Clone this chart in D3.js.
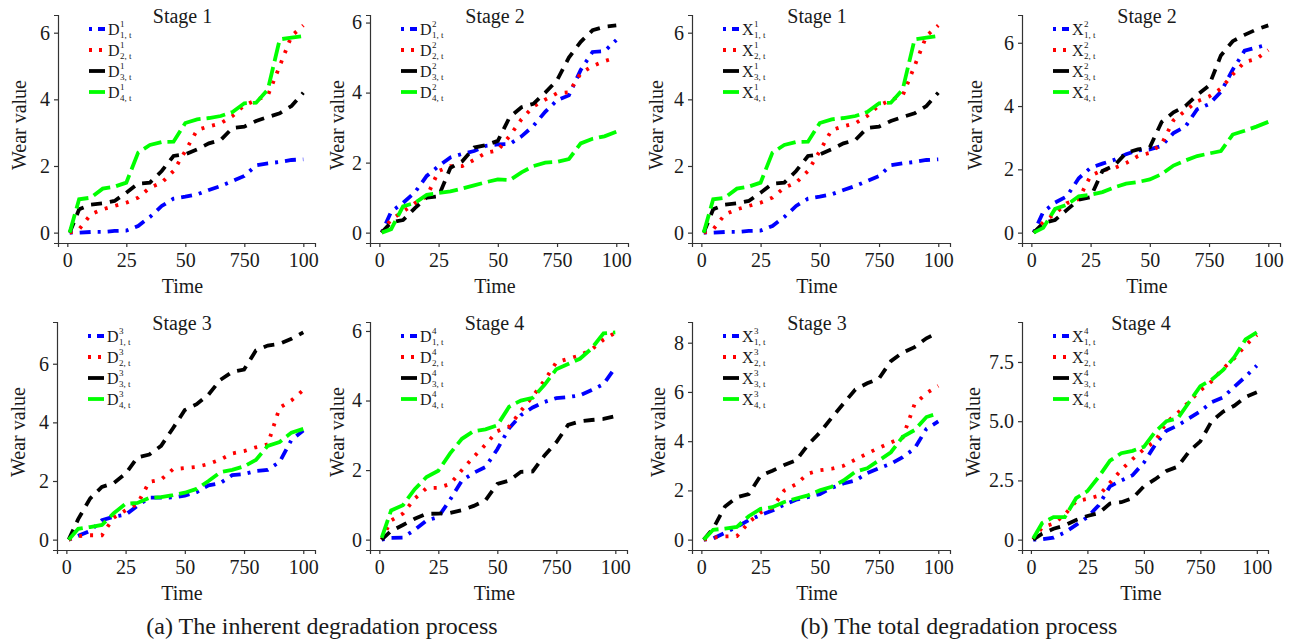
<!DOCTYPE html>
<html>
<head>
<meta charset="utf-8">
<script src="https://cdn.jsdelivr.net/npm/d3@7"></script>
<style>
  body { margin: 0; background: #fff; }
  svg { display: block; }
  svg text { font-family: 'Liberation Serif', 'Times New Roman', Times, 'DejaVu Serif', serif !important; fill: #1a1a1a; }
</style>
</head>
<body>
<svg id="chart" width="1294" height="641" font-family="Liberation Serif"></svg>
<script>
// time grid every 5 units
const times = [1, 5, 10, 15, 20, 25, 30, 35, 40, 45, 50, 55, 60, 65, 70, 75, 80, 85, 90, 95, 100]
const xTicks = [0, 25, 50, 75, 100]
const xTickLabels = ['0', '25', '50', '750', '100']

// inherent degradation, stage 1..4 (blue, red, black, green)
const inh1 = [
    [0, 0, 0.02, 0.02, 0.05, 0.06, 0.2, 0.47, 0.8, 1.02, 1.08, 1.15, 1.28, 1.4, 1.55, 1.7, 2.02, 2.08, 2.12, 2.18, 2.2],
    [0, 0.1, 0.55, 0.7, 0.8, 0.9, 1.05, 1.35, 1.5, 1.85, 2.45, 3.08, 3.19, 3.28, 3.5, 3.82, 3.98, 4.12, 5.0, 5.9, 6.22],
    [0, 0.7, 0.84, 0.88, 0.95, 1.2, 1.47, 1.5, 1.85, 2.3, 2.35, 2.5, 2.68, 2.78, 3.14, 3.18, 3.35, 3.47, 3.58, 3.8, 4.2],
    [0, 1.0, 1.05, 1.32, 1.38, 1.5, 2.4, 2.63, 2.72, 2.73, 3.29, 3.4, 3.44, 3.5, 3.62, 3.88, 3.9, 4.3, 5.8, 5.85, 5.9]
]
const inh2 = [
    [0, 0.6, 0.85, 1.15, 1.62, 1.9, 2.15, 2.25, 2.33, 2.48, 2.52, 2.53, 2.75, 3.05, 3.45, 3.78, 3.92, 4.65, 5.16, 5.18, 5.5],
    [0, 0.38, 0.6, 0.84, 1.03, 1.76, 1.9, 1.9, 2.08, 2.28, 2.35, 2.76, 3.24, 3.6, 3.8, 3.98, 4.01, 4.55, 4.76, 4.9, 5.0],
    [0, 0.3, 0.36, 0.7, 1.0, 1.04, 1.85, 2.04, 2.43, 2.5, 2.62, 3.3, 3.58, 3.68, 4.0, 4.35, 5.0, 5.45, 5.78, 5.88, 5.92],
    [0, 0.1, 0.75, 0.85, 1.08, 1.13, 1.18, 1.26, 1.35, 1.44, 1.52, 1.5, 1.72, 1.9, 2.0, 2.02, 2.1, 2.55, 2.68, 2.75, 2.88]
]
const inh3 = [
    [0, 0.13, 0.3, 0.66, 0.78, 0.85, 1.15, 1.43, 1.43, 1.44, 1.5, 1.62, 1.85, 1.93, 2.2, 2.24, 2.34, 2.38, 2.65, 3.4, 3.72],
    [0, 0.12, 0.15, 0.15, 0.75, 1.0, 1.22, 1.97, 2.05, 2.4, 2.44, 2.48, 2.58, 2.73, 2.94, 3.02, 3.15, 3.25, 4.5, 4.75, 5.1],
    [0, 0.7, 1.4, 1.8, 1.93, 2.25, 2.8, 2.9, 3.2, 3.8, 4.42, 4.62, 4.95, 5.45, 5.72, 5.8, 6.45, 6.62, 6.68, 6.85, 7.07],
    [0, 0.37, 0.43, 0.5, 0.9, 1.22, 1.25, 1.42, 1.45, 1.52, 1.6, 1.73, 2.0, 2.3, 2.38, 2.5, 2.72, 3.2, 3.33, 3.65, 3.78]
]
const inh4 = [
    [0, 0.05, 0.06, 0.28, 0.55, 0.65, 1.15, 1.7, 1.92, 2.09, 2.6, 3.2, 3.58, 3.8, 3.96, 4.07, 4.1, 4.15, 4.3, 4.47, 4.95],
    [0, 0.55, 0.75, 1.18, 1.48, 1.49, 1.6, 2.0, 2.38, 2.73, 3.12, 3.25, 3.7, 4.12, 4.58, 5.1, 5.2, 5.3, 5.47, 5.75, 5.95],
    [0, 0.25, 0.42, 0.6, 0.74, 0.75, 0.77, 0.85, 0.97, 1.13, 1.6, 1.7, 1.95, 1.96, 2.42, 2.8, 3.3, 3.4, 3.44, 3.47, 3.55],
    [0.05, 0.84, 0.99, 1.45, 1.8, 1.98, 2.48, 2.9, 3.12, 3.17, 3.29, 3.82, 4.0, 4.08, 4.45, 4.9, 5.05, 5.2, 5.5, 5.93, 5.96]
]

// total degradation, stage 1..4 (stage 1 is the same as the inherent one)
const tot1 = inh1
const tot2 = [
    [0, 0.65, 0.95, 1.15, 1.72, 2.05, 2.18, 2.3, 2.48, 2.6, 2.63, 2.74, 3.15, 3.35, 3.9, 4.06, 4.45, 5.15, 5.75, 5.85, 5.95],
    [0, 0.33, 0.6, 0.93, 1.06, 1.8, 1.97, 2.04, 2.2, 2.42, 2.52, 2.8, 3.55, 3.85, 4.15, 4.3, 4.55, 5.0, 5.39, 5.49, 5.77],
    [0, 0.3, 0.4, 0.72, 1.04, 1.12, 1.95, 2.12, 2.52, 2.63, 2.7, 3.5, 3.8, 4.0, 4.35, 4.65, 5.6, 6.05, 6.25, 6.42, 6.55],
    [0, 0.15, 0.75, 0.88, 1.15, 1.2, 1.28, 1.43, 1.55, 1.6, 1.68, 1.85, 2.12, 2.28, 2.42, 2.5, 2.58, 3.1, 3.22, 3.35, 3.5]
]
const tot3 = [
    [0, 0.05, 0.28, 0.52, 0.79, 1.0, 1.18, 1.42, 1.62, 1.73, 1.85, 2.1, 2.28, 2.4, 2.7, 2.9, 3.08, 3.35, 3.7, 4.5, 4.8],
    [0, 0.08, 0.13, 0.14, 0.7, 1.1, 1.3, 2.0, 2.25, 2.68, 2.82, 2.88, 3.0, 3.25, 3.5, 3.73, 3.95, 4.15, 5.5, 5.95, 6.25],
    [0, 0.45, 1.35, 1.72, 1.85, 2.6, 2.8, 3.03, 3.22, 3.85, 4.35, 4.95, 5.53, 6.1, 6.35, 6.55, 7.25, 7.6, 7.82, 8.18, 8.42],
    [0, 0.4, 0.45, 0.52, 0.95, 1.25, 1.32, 1.53, 1.67, 1.8, 2.0, 2.15, 2.4, 2.76, 2.9, 3.22, 3.55, 4.18, 4.45, 4.98, 5.13]
]
const tot4 = [
    [0, 0.02, 0.08, 0.3, 0.62, 0.95, 1.45, 2.25, 2.5, 2.72, 3.25, 4.0, 4.6, 4.82, 5.12, 5.42, 5.8, 6.0, 6.45, 6.88, 7.35],
    [0, 0.52, 0.68, 1.05, 1.62, 1.72, 1.85, 2.4, 2.95, 3.4, 3.82, 4.15, 4.95, 5.35, 5.82, 6.3, 6.68, 7.22, 7.65, 8.2, 8.64],
    [0, 0.25, 0.46, 0.6, 0.83, 1.0, 1.12, 1.52, 1.58, 1.75, 2.25, 2.55, 2.9, 3.08, 3.72, 4.15, 5.0, 5.4, 5.65, 6.02, 6.22],
    [0.05, 0.7, 0.95, 0.95, 1.75, 2.05, 2.65, 3.33, 3.65, 3.75, 3.92, 4.55, 5.0, 5.12, 5.8, 6.48, 6.75, 7.15, 7.7, 8.45, 8.75]
]

const yTicksSix = [0, 2, 4, 6]
const yTicksEight = [0, 2, 4, 6, 8]
const yTicksHalf = [0, 2.5, 5, 7.5]

const colors = ['#0000ff', '#ff0000', '#000000', '#00ff00']
const dashes = ['3,7,11,7', '3,8', '11,8', '19,6']
const serif = "'Liberation Serif', 'Times New Roman', Times, 'DejaVu Serif', serif"

// panel boxes [left, right, top, bottom] and y title x
const panels = [
    {vals: inh1, letter: 'D', stage: 1, box: [58, 315, 15, 243], yt: yTicksSix, ytx: 26},
    {vals: inh2, letter: 'D', stage: 2, box: [370, 628, 15, 243], yt: yTicksSix, ytx: 344},
    {vals: tot1, letter: 'X', stage: 1, box: [692, 950, 15, 243], yt: yTicksSix, ytx: 663},
    {vals: tot2, letter: 'X', stage: 2, box: [1022, 1280, 15, 243], yt: yTicksSix, ytx: 982},
    {vals: inh3, letter: 'D', stage: 3, box: [57, 315, 322, 550], yt: yTicksSix, ytx: 25},
    {vals: inh4, letter: 'D', stage: 4, box: [370, 627, 322, 550], yt: yTicksSix, ytx: 344},
    {vals: tot3, letter: 'X', stage: 3, box: [692, 950, 322, 550], yt: yTicksEight, ytx: 665},
    {vals: tot4, letter: 'X', stage: 4, box: [1022, 1268, 322, 550], yt: yTicksHalf, ytx: 980}
]

let svg = d3.select('#chart')

panels.forEach(function (p) {
    let [x0, x1, y0, y1] = p.box
    let ymax = d3.max(p.vals, function (s) { return d3.max(s) })
    let x = d3.scaleLinear().domain([1 - 0.05 * 99, 100 + 0.05 * 99]).range([x0, x1])
    let y = d3.scaleLinear().domain([-0.05 * ymax, ymax * 1.05]).range([y1, y0])
    let g = svg.append('g')

    // series
    let line = d3.line()
        .x(function (d, i) { return x(times[i]) })
        .y(function (d) { return y(d) })
    g.selectAll('.series')
        .data(p.vals)
        .enter()
        .append('path')
        .attr('d', line)
        .attr('fill', 'none')
        .attr('stroke', function (d, i) { return colors[i] })
        .attr('stroke-width', 3.8)
        .attr('stroke-dasharray', function (d, i) { return dashes[i] })

    // axes
    g.append('g')
        .attr('transform', `translate(0,${y1})`)
        .call(d3.axisBottom(x).tickValues(xTicks)
            .tickFormat(function (d, i) { return xTickLabels[i] })
            .tickSizeOuter(0).tickSize(4).tickPadding(6))
    g.append('g')
        .attr('transform', `translate(${x0},0)`)
        .call(d3.axisLeft(y).tickValues(p.yt)
            .tickFormat(function (d) { return d === 0 ? '0' : (p.yt === yTicksHalf ? d.toFixed(1) : d) })
            .tickSizeOuter(0).tickSize(4).tickPadding(4))
    g.selectAll('g').attr('font-family', serif)
    g.selectAll('.domain').attr('stroke', '#333').attr('stroke-width', 1.2)
    g.selectAll('.tick line').attr('stroke', '#333').attr('stroke-width', 1.2)
    g.selectAll('.tick text').style('font-size', '20px').attr('fill', '#1a1a1a')

    // titles
    g.append('text')
        .attr('x', (x0 + x1) / 2 - 4)
        .attr('y', y0 + 8)
        .attr('text-anchor', 'middle')
        .style('font-size', '20px')
        .text('Stage ' + p.stage)
    g.append('text')
        .attr('x', (x0 + x1) / 2 - 4)
        .attr('y', y1 + 50)
        .attr('text-anchor', 'middle')
        .style('font-size', '20px')
        .text('Time')
    g.append('text')
        .attr('transform', `translate(${p.ytx},${(y0 + y1) / 2 - 4}) rotate(-90)`)
        .attr('text-anchor', 'middle')
        .style('font-size', '20px')
        .text('Wear value')

    // legend
    let leg = g.selectAll('.leg')
        .data(p.vals)
        .enter()
        .append('g')
        .attr('transform', function (d, i) { return `translate(${x0 + 31},${y0 + 20 + 21 * i})` })
    leg.append('line')
        .attr('x1', 0).attr('x2', 16)
        .attr('y1', -6).attr('y2', -6)
        .attr('stroke', function (d, i) { return colors[i] })
        .attr('stroke-width', 3.8)
        .attr('stroke-dasharray', function (d, i) { return ['3,6,7', '3,7,3', 'none', 'none'][i] })
    leg.append('text')
        .attr('x', 19).attr('y', 0)
        .style('font-size', '16px')
        .text(p.letter)
    leg.append('text')
        .attr('x', 31).attr('y', -8)
        .style('font-size', '9px')
        .text(p.stage)
    leg.append('text')
        .attr('x', 31).attr('y', 3)
        .style('font-size', '9px')
        .text(function (d, i) { return (i + 1) + ', t' })
})

svg.append('text')
    .attr('x', 322).attr('y', 634)
    .attr('text-anchor', 'middle')
    .style('font-size', '24px')
    .text('(a) The inherent degradation process')
svg.append('text')
    .attr('x', 959).attr('y', 634)
    .attr('text-anchor', 'middle')
    .style('font-size', '24px')
    .text('(b) The total degradation process')
</script>
</body>
</html>
